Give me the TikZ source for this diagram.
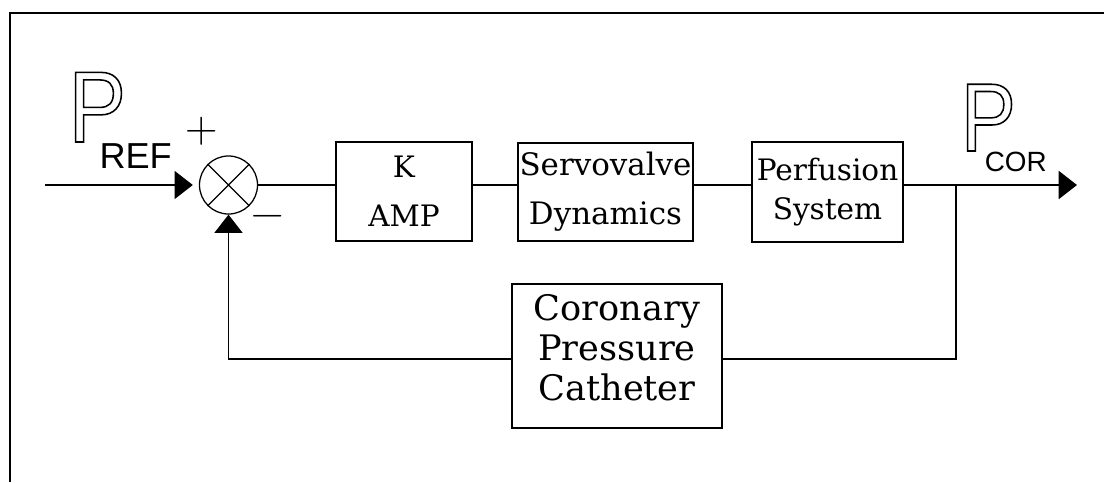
\documentclass[tikz,border=0pt]{standalone}
\usepackage{fontspec}
\usetikzlibrary{arrows.meta}
\newfontfamily\boxfont{DejaVu Serif}
\newfontfamily\labfont{Liberation Sans}
\newfontfamily\bigPfont{Liberation Sans}[FakeStretch=0.85]
\newcommand{\outlinedtext}[1]{\special{pdf:code 1 Tr 1.1 w}#1\special{pdf:code 0 Tr}}
\tikzset{
  blk/.style={draw, line width=0.9pt, inner sep=0pt, align=center, font=\boxfont},
  conn/.style={line width=0.9pt},
  arr/.style={conn, -{Triangle[length=13pt,width=20pt]}},
  plabel/.style={inner sep=0pt, anchor=base west},
  sign/.style={inner sep=0pt}
}
\begin{document}
\begin{tikzpicture}[x=0.025cm,y=-0.025cm]
\useasboundingbox (0,0) rectangle (1104,482);
% frame
\draw[line width=1.6pt] (10,482) -- (10,13) -- (1104,13);
% summing junction
\node[draw, circle, line width=0.9pt, minimum size=1.45cm, inner sep=0pt] (sum) at (228.5,185) {};
\draw[line width=0.8pt] (sum.north east) -- (sum.south west) (sum.north west) -- (sum.south east);
% blocks
\node[blk, minimum width=3.4cm, minimum height=2.475cm,
      font=\boxfont\fontsize{21}{35}\selectfont] (amp) at (404,191.5) {K\\AMP};
\node[blk, minimum width=4.375cm, minimum height=2.45cm,
      font=\boxfont\fontsize{22}{35}\selectfont] (servo) at (605.5,192) {Servovalve\\Dynamics};
\node[blk, minimum width=3.775cm, minimum height=2.5cm,
      font=\boxfont\fontsize{21}{28}\selectfont] (perf) at (827.5,192) {Perfusion\\System};
\node[blk, minimum width=5.25cm, minimum height=3.6cm, text depth=12pt,
      font=\boxfont\fontsize{25}{28.5}\selectfont] (cath) at (617,356) {Coronary\\Pressure\\Catheter};
% labels P_REF and P_COR
\node[plabel] (pref) at (68.3,142)
  {\bigPfont\fontsize{72}{72}\selectfont\outlinedtext{P}\hspace{-18.8pt}\raisebox{-19pt}{\labfont\fontsize{25.7}{26}\selectfont REF}};
\node[plabel] (pcor) at (960.6,151)
  {\bigPfont\fontsize{69}{69}\selectfont\outlinedtext{P}\hspace{-22.1pt}\raisebox{-14.5pt}{\labfont\fontsize{19.8}{20}\selectfont COR}};
\node[sign, font=\fontsize{32}{32}\selectfont] (plus) at (202,131) {+};
\node[sign, font=\fontsize{32}{32}\selectfont] (minus) at (268,221) {−};
% coordinates
\coordinate (in) at (45,185);
\coordinate (out) at (1077,185);
\coordinate (br) at (956,185);
\coordinate (fb) at (956,359);
% connectors
\draw[arr, shorten >=4.3pt] (in) -- (sum.west);
\draw[conn] (sum.east) -- (sum.east -| amp.west);
\draw[conn] (amp.east |- sum.east) -- (servo.west |- sum.east);
\draw[conn] (servo.east |- sum.east) -- (perf.west |- sum.east);
\draw[arr] (perf.east |- sum.east) -- (out);
\draw[conn] (br) -- (fb) -- (cath.east |- fb);
\draw[arr] (cath.west |- fb) -| (sum.south);
\end{tikzpicture}
\end{document}
